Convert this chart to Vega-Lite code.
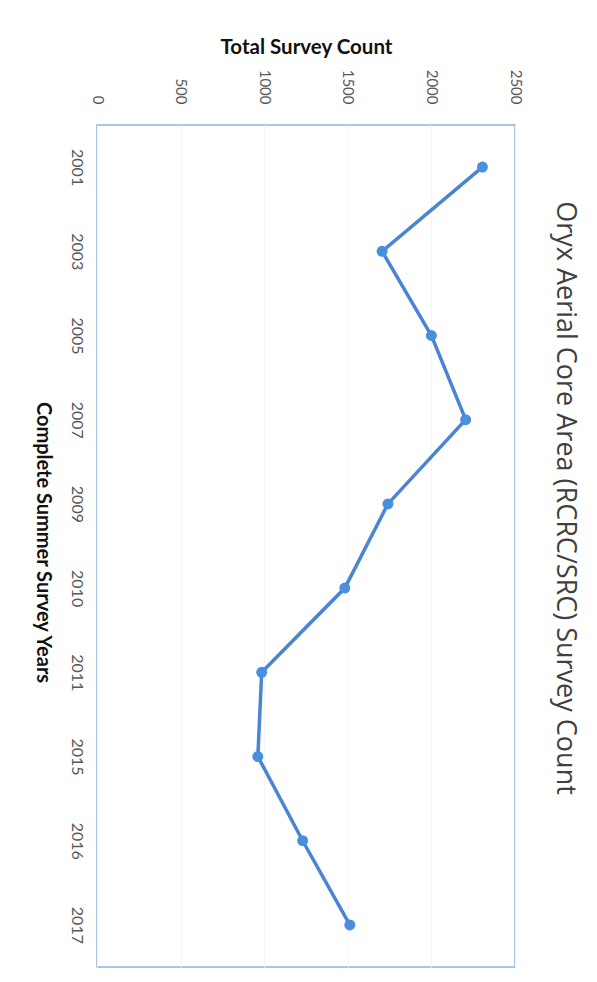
{
  "$schema": "https://vega.github.io/schema/vega-lite/v6.json",
  "autosize": "none",
  "width": 418,
  "height": 842,
  "padding": {"left": 97, "top": 125, "right": 82, "bottom": 15},
  "background": "white",
  "data": {
    "values": [
      {"year": "2001", "count": 2305},
      {"year": "2003", "count": 1705},
      {"year": "2005", "count": 2000},
      {"year": "2007", "count": 2205},
      {"year": "2009", "count": 1740},
      {"year": "2010", "count": 1482},
      {"year": "2011", "count": 985},
      {"year": "2015", "count": 962},
      {"year": "2016", "count": 1230},
      {"year": "2017", "count": 1512}
    ]
  },
  "title": {
    "text": "Oryx Aerial Core Area (RCRC/SRC) Survey Count",
    "orient": "right",
    "anchor": "middle",
    "angle": 90,
    "offset": 29,
    "dx": -48,
    "font": "Open Sans",
    "fontSize": 27,
    "fontWeight": "normal",
    "color": "#404040"
  },
  "config": {
    "view": {"stroke": "#8db4e2", "strokeWidth": 1.5},
    "font": "Lato"
  },
  "encoding": {
    "y": {
      "field": "year",
      "type": "ordinal",
      "scale": {"type": "point", "padding": 0.5},
      "axis": {
        "orient": "left",
        "title": "Complete Summer Survey Years",
        "titleAngle": 90,
        "titleFont": "Lato",
        "titleFontSize": 20,
        "titleFontWeight": "bold",
        "titleColor": "#111111",
        "titleX": -55,
        "titleY": 417,
        "titleAlign": "center",
        "titleBaseline": "middle",
        "labelAngle": 90,
        "labelAlign": "center",
        "labelBaseline": "top",
        "labelPadding": 13,
        "labelFontSize": 16,
        "labelColor": "#595959",
        "labelFont": "Lato",
        "ticks": false,
        "domain": false,
        "grid": false
      }
    },
    "x": {
      "field": "count",
      "type": "quantitative",
      "scale": {"domain": [0, 2500], "nice": false},
      "axis": {
        "orient": "top",
        "values": [0, 500, 1000, 1500, 2000, 2500],
        "format": "d",
        "title": "Total Survey Count",
        "titleAngle": 0,
        "titleFont": "Lato",
        "titleFontSize": 20.5,
        "titleFontWeight": "bold",
        "titleColor": "#111111",
        "titlePadding": 12,
        "labelAngle": 90,
        "labelAlign": "right",
        "labelBaseline": "middle",
        "labelPadding": 21,
        "labelFontSize": 15,
        "labelColor": "#595959",
        "labelFont": "Lato",
        "ticks": false,
        "domain": false,
        "grid": true,
        "gridColor": "#f4f4f4",
        "gridWidth": 1
      }
    }
  },
  "layer": [
    {"mark": {"type": "line", "color": "#4a84d2", "strokeWidth": 3.5}},
    {"mark": {"type": "point", "filled": true, "size": 120, "opacity": 1, "color": "#4a8ee0"}}
  ]
}
